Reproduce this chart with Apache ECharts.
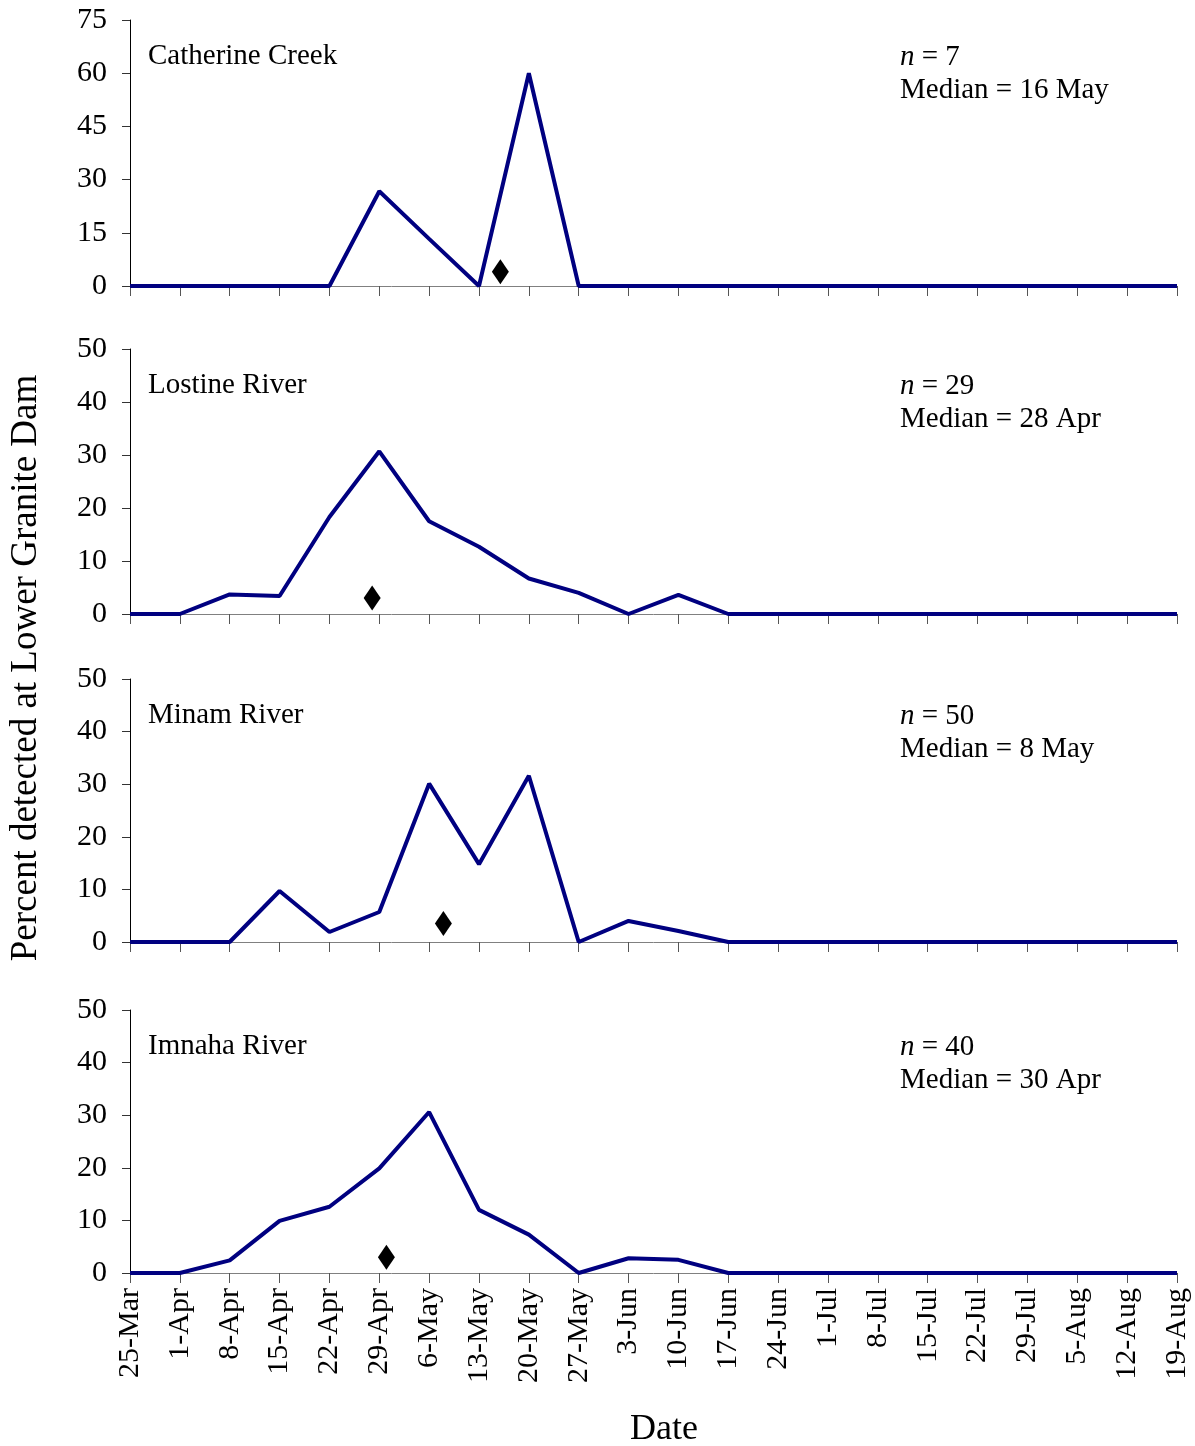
<!DOCTYPE html>
<html>
<head>
<meta charset="utf-8">
<script src="https://cdn.jsdelivr.net/npm/echarts@6/dist/echarts.min.js"></script>
<style>
  html, body { margin: 0; padding: 0; background: #fff; }
  #chart { width: 1195px; height: 1446px; }
</style>
</head>
<body>
<div id="chart"></div>
<script>
// weekly dates, 25-Mar .. 19-Aug
const dates = ["25-Mar", "1-Apr", "8-Apr", "15-Apr", "22-Apr", "29-Apr", "6-May", "13-May",
  "20-May", "27-May", "3-Jun", "10-Jun", "17-Jun", "24-Jun", "1-Jul", "8-Jul", "15-Jul",
  "22-Jul", "29-Jul", "5-Aug", "12-Aug", "19-Aug"];

const panelNames = ["Catherine Creek", "Lostine River", "Minam River", "Imnaha River"];
const panelN = [7, 29, 50, 40];
const medianText = ["16 May", "28 Apr", "8 May", "30 Apr"];
// median as days after 25-Mar, and the marker height
const medianDay = [52, 34, 44, 36];
const medianY = [4, 3, 3.5, 3];

const catherine = [0, 0, 0, 0, 0, 26.7, 13.3, 0, 60, 0, 0, 0, 0, 0, 0, 0, 0, 0, 0, 0, 0, 0];
const lostine = [0, 0, 3.7, 3.4, 18.3, 30.7, 17.5, 12.7, 6.7, 4.0, 0, 3.6, 0, 0, 0, 0, 0, 0, 0, 0, 0, 0];
const minam = [0, 0, 0, 9.7, 1.9, 5.7, 30.1, 14.8, 31.6, 0, 4.0, 2.1, 0, 0, 0, 0, 0, 0, 0, 0, 0, 0];
const imnaha = [0, 0, 2.4, 9.9, 12.6, 19.9, 30.6, 12.0, 7.3, 0, 2.8, 2.5, 0, 0, 0, 0, 0, 0, 0, 0, 0, 0];
const values = [catherine, lostine, minam, imnaha];

const yMax = [75, 50, 50, 50];
const yStep = [15, 10, 10, 10];

const font = "'Liberation Serif', 'Times New Roman', serif";
const tops = [20, 349, 679, 1010];
const heights = [266, 265, 263, 263];

const chart = echarts.init(document.getElementById("chart"));

let grids = [], xAxes = [], yAxes = [], series = [], graphics = [];
values.forEach((vals, k) => {
  grids.push({ left: 130, right: 18, top: tops[k], height: heights[k] });
  xAxes.push({
    type: "value",
    gridIndex: k,
    min: 0,
    max: 147,
    interval: 7,
    axisLine: { lineStyle: { color: "#808080", width: 1 } },
    axisTick: { show: true, length: 10, lineStyle: { color: "#555" } },
    splitLine: { show: false },
    axisLabel: {
      show: k === 3,
      rotate: 90,
      margin: 15,
      color: "#000",
      fontFamily: font,
      fontSize: 30,
      formatter: (v) => dates[Math.round(v / 7)],
    },
  });
  yAxes.push({
    type: "value",
    gridIndex: k,
    min: 0,
    max: yMax[k],
    interval: yStep[k],
    axisLine: { show: true, lineStyle: { color: "#000", width: 1 } },
    axisTick: { show: true, length: 8, lineStyle: { color: "#333" } },
    splitLine: { show: false },
    axisLabel: { color: "#000", fontFamily: font, fontSize: 30, margin: 23 },
  });
  series.push({
    type: "line",
    xAxisIndex: k,
    yAxisIndex: k,
    data: vals.map((v, i) => [i * 7, v]),
    symbol: "none",
    lineStyle: { color: "#000080", width: 4 },
    z: 3,
  });
  series.push({
    type: "scatter",
    xAxisIndex: k,
    yAxisIndex: k,
    data: [[medianDay[k], medianY[k]]],
    symbol: "diamond",
    symbolSize: [17, 25],
    itemStyle: { color: "#000", opacity: 1 },
    z: 4,
  });
  graphics.push({
    type: "text",
    left: 148,
    top: tops[k] + 22,
    style: { text: panelNames[k], font: "29px " + font, fill: "#000" },
  });
  graphics.push({
    type: "text",
    left: 900,
    top: tops[k] + 21,
    style: {
      text: "{i|n} = " + panelN[k] + "\nMedian = " + medianText[k],
      font: "29px " + font,
      fill: "#000",
      lineHeight: 33,
      rich: { i: { fontStyle: "italic", font: "italic 29px " + font, fill: "#000" } },
    },
  });
});

graphics.push({
  type: "text",
  x: 26,
  y: 668,
  rotation: Math.PI / 2,
  style: {
    text: "Percent detected at Lower Granite Dam",
    font: "37px " + font,
    fill: "#000",
    align: "center",
    verticalAlign: "middle",
  },
});
graphics.push({
  type: "text",
  x: 664,
  y: 1430,
  style: { text: "Date", font: "36px " + font, fill: "#000", align: "center", verticalAlign: "middle" },
});

chart.setOption({
  animation: false,
  grid: grids,
  xAxis: xAxes,
  yAxis: yAxes,
  series: series,
  graphic: graphics,
});
</script>
</body>
</html>
